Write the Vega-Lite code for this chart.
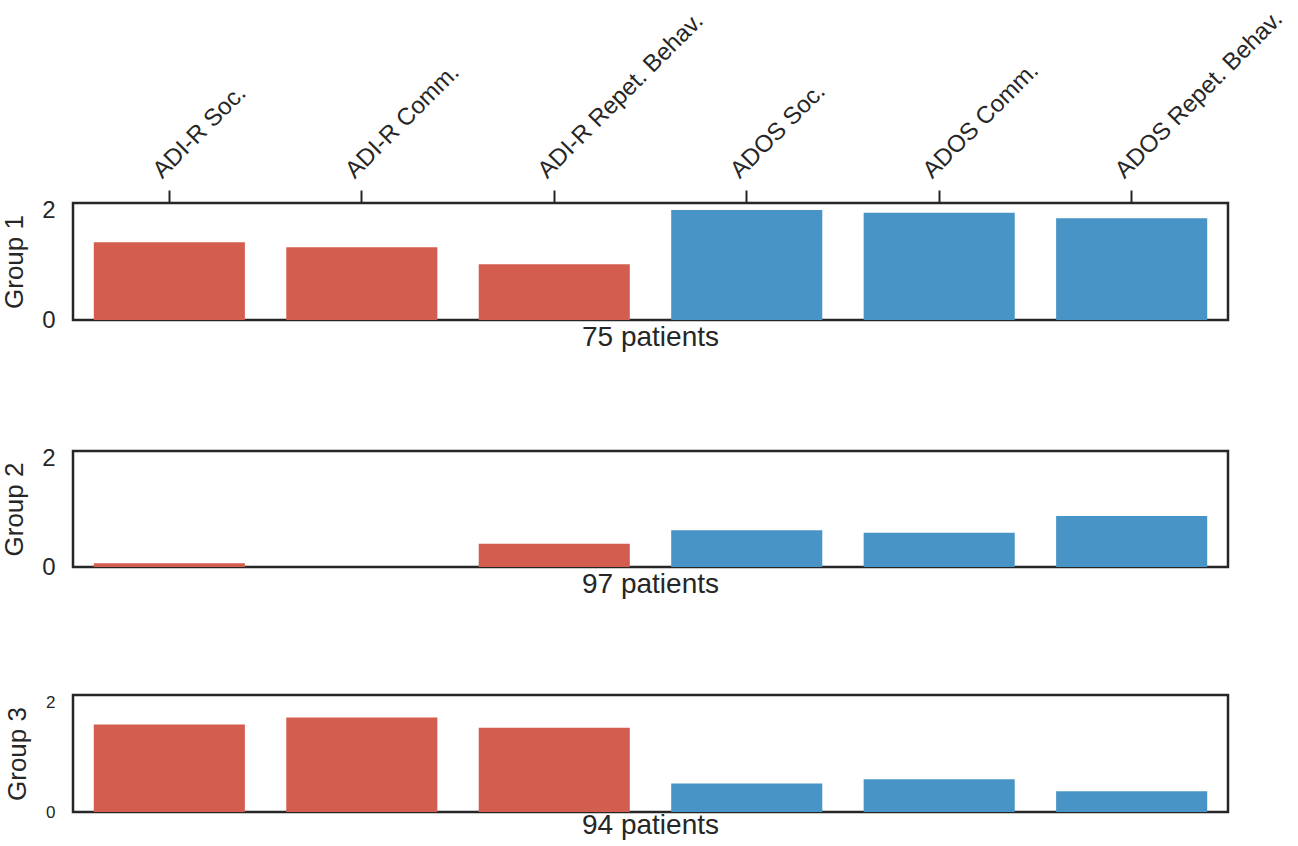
{
  "$schema": "https://vega.github.io/schema/vega-lite/v6.json",
  "background": "white",
  "padding": {"left": 0, "top": 5, "right": 0, "bottom": 0},
  "config": {
    "font": "Liberation Sans",
    "view": {"stroke": "#262626", "strokeWidth": 2.5},
    "axis": {"domain": false, "grid": false, "labelColor": "#262626", "titleColor": "#262626", "labelFont": "Liberation Sans", "titleFont": "Liberation Sans", "titleFontWeight": "normal"},
    "title": {"font": "Liberation Sans", "fontWeight": "normal", "color": "#262626", "fontSize": 28}
  },
  "datasets": {
    "scores": [
      {"group": "Group 1", "measure": "ADI-R Soc.", "instrument": "ADI-R", "value": 1.42},
      {"group": "Group 1", "measure": "ADI-R Comm.", "instrument": "ADI-R", "value": 1.33},
      {"group": "Group 1", "measure": "ADI-R Repet. Behav.", "instrument": "ADI-R", "value": 1.02},
      {"group": "Group 1", "measure": "ADOS Soc.", "instrument": "ADOS", "value": 2.01},
      {"group": "Group 1", "measure": "ADOS Comm.", "instrument": "ADOS", "value": 1.96},
      {"group": "Group 1", "measure": "ADOS Repet. Behav.", "instrument": "ADOS", "value": 1.86},
      {"group": "Group 2", "measure": "ADI-R Soc.", "instrument": "ADI-R", "value": 0.07},
      {"group": "Group 2", "measure": "ADI-R Comm.", "instrument": "ADI-R", "value": 0.0},
      {"group": "Group 2", "measure": "ADI-R Repet. Behav.", "instrument": "ADI-R", "value": 0.43},
      {"group": "Group 2", "measure": "ADOS Soc.", "instrument": "ADOS", "value": 0.68},
      {"group": "Group 2", "measure": "ADOS Comm.", "instrument": "ADOS", "value": 0.63},
      {"group": "Group 2", "measure": "ADOS Repet. Behav.", "instrument": "ADOS", "value": 0.94},
      {"group": "Group 3", "measure": "ADI-R Soc.", "instrument": "ADI-R", "value": 1.6},
      {"group": "Group 3", "measure": "ADI-R Comm.", "instrument": "ADI-R", "value": 1.73},
      {"group": "Group 3", "measure": "ADI-R Repet. Behav.", "instrument": "ADI-R", "value": 1.54},
      {"group": "Group 3", "measure": "ADOS Soc.", "instrument": "ADOS", "value": 0.52},
      {"group": "Group 3", "measure": "ADOS Comm.", "instrument": "ADOS", "value": 0.6},
      {"group": "Group 3", "measure": "ADOS Repet. Behav.", "instrument": "ADOS", "value": 0.38}
    ]
  },
  "spacing": 91,
  "vconcat": [
    {
      "width": 1155, "height": 117,
      "data": {"name": "scores"},
      "transform": [{"filter": "datum.group === 'Group 1'"}],
      "title": {"text": "75 patients", "orient": "bottom", "offset": -8},
      "mark": {"type": "bar"},
      "encoding": {
        "x": {"field": "measure", "type": "nominal", "sort": ["ADI-R Soc.", "ADI-R Comm.", "ADI-R Repet. Behav.", "ADOS Soc.", "ADOS Comm.", "ADOS Repet. Behav."],
          "scale": {"paddingInner": 0.215, "paddingOuter": 0.108},
          "axis": {"orient": "top", "title": null, "labelAngle": -45, "labelAlign": "left", "labelBaseline": "middle", "labelFontSize": 24, "labelLimit": 0, "labelOffset": -12, "tickSize": 13, "tickWidth": 2, "tickColor": "#262626", "labelPadding": 16}},
        "y": {"field": "value", "type": "quantitative", "scale": {"domain": [0, 2.14], "nice": false},
          "axis": {"title": "Group 1", "values": [0, 2], "ticks": false, "labelFontSize": 24, "labelPadding": 18, "titleFontSize": 26, "titlePadding": 14}},
        "color": {"field": "instrument", "type": "nominal", "scale": {"domain": ["ADI-R", "ADOS"], "range": ["#d35e50", "#4994c6"]}, "legend": null}
      }
    },
    {
      "width": 1155, "height": 116,
      "data": {"name": "scores"},
      "transform": [{"filter": "datum.group === 'Group 2'"}],
      "title": {"text": "97 patients", "orient": "bottom", "offset": -8},
      "mark": {"type": "bar"},
      "encoding": {
        "x": {"field": "measure", "type": "nominal", "sort": ["ADI-R Soc.", "ADI-R Comm.", "ADI-R Repet. Behav.", "ADOS Soc.", "ADOS Comm.", "ADOS Repet. Behav."],
          "scale": {"paddingInner": 0.215, "paddingOuter": 0.108},
          "axis": null},
        "y": {"field": "value", "type": "quantitative", "scale": {"domain": [0, 2.14], "nice": false},
          "axis": {"title": "Group 2", "values": [0, 2], "ticks": false, "labelFontSize": 24, "labelPadding": 18, "titleFontSize": 26, "titlePadding": 14}},
        "color": {"field": "instrument", "type": "nominal", "scale": {"domain": ["ADI-R", "ADOS"], "range": ["#d35e50", "#4994c6"]}, "legend": null}
      }
    },
    {
      "width": 1155, "height": 117,
      "data": {"name": "scores"},
      "transform": [{"filter": "datum.group === 'Group 3'"}],
      "title": {"text": "94 patients", "orient": "bottom", "offset": -8},
      "mark": {"type": "bar"},
      "encoding": {
        "x": {"field": "measure", "type": "nominal", "sort": ["ADI-R Soc.", "ADI-R Comm.", "ADI-R Repet. Behav.", "ADOS Soc.", "ADOS Comm.", "ADOS Repet. Behav."],
          "scale": {"paddingInner": 0.215, "paddingOuter": 0.108},
          "axis": null},
        "y": {"field": "value", "type": "quantitative", "scale": {"domain": [0, 2.14], "nice": false},
          "axis": {"title": "Group 3", "values": [0, 2], "ticks": false, "labelFontSize": 17, "labelPadding": 18, "titleFontSize": 26, "titlePadding": 15}},
        "color": {"field": "instrument", "type": "nominal", "scale": {"domain": ["ADI-R", "ADOS"], "range": ["#d35e50", "#4994c6"]}, "legend": null}
      }
    }
  ]
}
